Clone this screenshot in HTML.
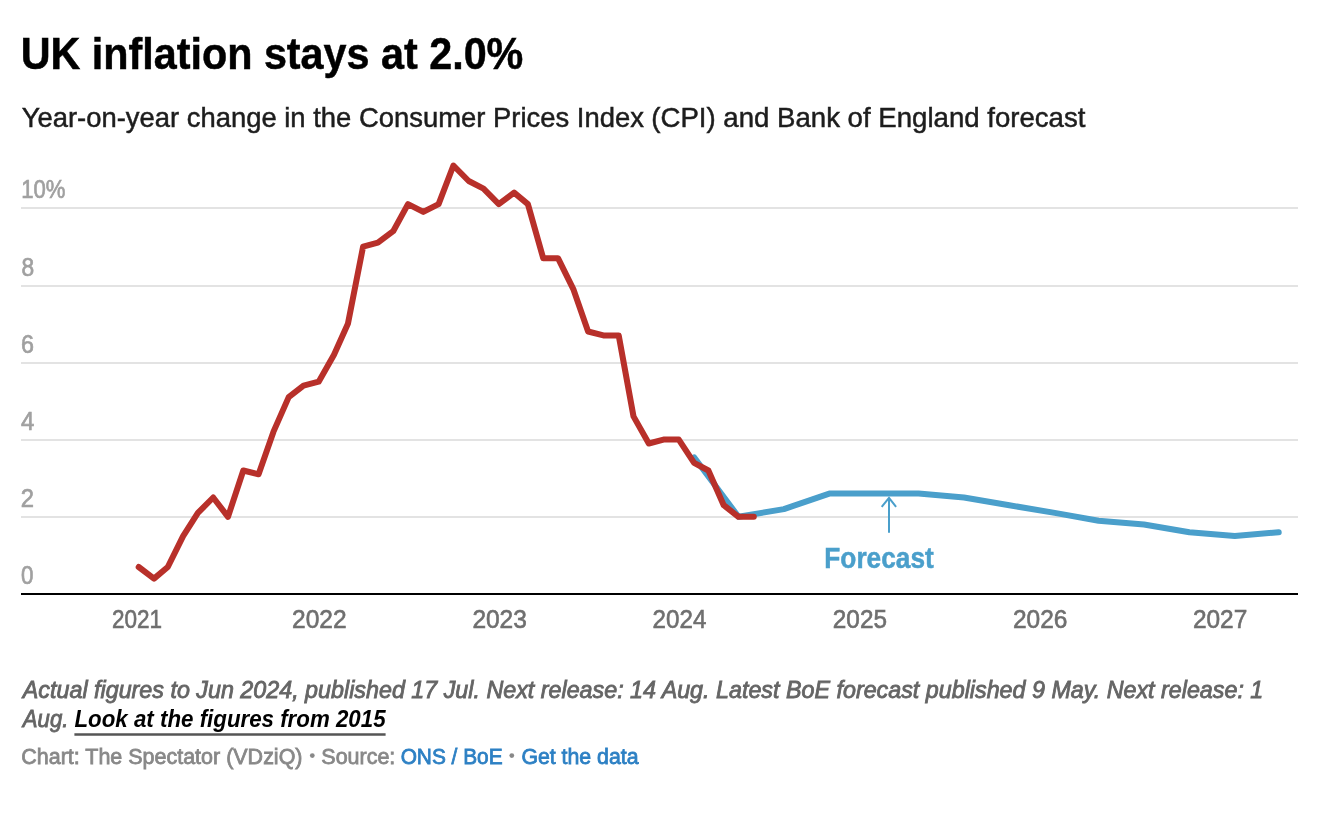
<!DOCTYPE html>
<html><head><meta charset="utf-8"><style>
html,body{margin:0;padding:0;background:#fff;}
body{width:1336px;height:814px;overflow:hidden;}
svg{display:block;will-change:transform;}
text{font-family:"Liberation Sans",sans-serif;}
.t{font-weight:bold;font-size:45px;fill:#000;stroke:#000;stroke-width:0.5px;}
.st{font-size:28.5px;fill:#1d1d1d;stroke:#1d1d1d;stroke-width:0.5px;}
.yl{font-size:26px;fill:#a0a0a0;stroke:#a0a0a0;stroke-width:0.7px;}
.xl{font-size:25.3px;fill:#6f6f6f;stroke:#6f6f6f;stroke-width:0.6px;}
.fc{font-weight:bold;font-size:29.5px;fill:#4a9fcb;stroke:#4a9fcb;stroke-width:0.5px;}
.n{font-size:24px;font-style:italic;fill:#656565;stroke:#656565;stroke-width:0.85px;}
.nb{font-size:24px;font-style:italic;font-weight:bold;fill:#000;}
.by{font-size:22px;fill:#888;stroke:#888;stroke-width:0.8px;}
.lk{fill:#2d80c4;stroke:#2d80c4;}
</style></head><body>
<svg width="1336" height="814" viewBox="0 0 1336 814">
<g id="gridg">
<line x1="21" x2="1298" y1="517.0" y2="517.0" stroke="#e3e3e3" stroke-width="2"/>
<line x1="21" x2="1298" y1="440.0" y2="440.0" stroke="#e3e3e3" stroke-width="2"/>
<line x1="21" x2="1298" y1="363.0" y2="363.0" stroke="#e3e3e3" stroke-width="2"/>
<line x1="21" x2="1298" y1="286.0" y2="286.0" stroke="#e3e3e3" stroke-width="2"/>
<line x1="21" x2="1298" y1="208.0" y2="208.0" stroke="#e3e3e3" stroke-width="2"/>

<line x1="21" x2="1298" y1="594" y2="594" stroke="#000" stroke-width="2"/>
</g>
<g id="lines">
<path d="M694.1,457.3 L738.5,516.8 L783.9,509.1 L829.3,493.6 L874.7,493.6 L918.6,493.6 L964.0,497.5 L1009.3,505.2 L1054.7,512.9 L1098.6,520.7 L1144.0,524.5 L1189.4,532.2 L1234.8,536.1 L1278.7,532.2" fill="none" stroke="#4a9fcb" stroke-width="6" stroke-linejoin="round" stroke-linecap="round"/>
<path d="M138.7,567.0 L154.0,578.6 L167.8,567.0 L183.1,536.1 L197.9,512.9 L213.2,497.5 L228.0,516.8 L243.3,470.5 L258.6,474.3 L273.4,431.9 L288.7,397.1 L303.5,385.6 L318.7,381.7 L334.0,354.7 L347.9,323.8 L363.1,246.6 L377.9,242.7 L393.2,231.2 L408.0,204.1 L423.3,211.9 L438.6,204.1 L453.4,165.5 L468.7,181.0 L483.5,188.7 L498.8,204.1 L514.1,192.6 L527.9,204.1 L543.2,258.2 L558.0,258.2 L573.3,289.1 L588.1,331.5 L603.4,335.4 L618.7,335.4 L633.5,416.4 L648.8,443.5 L663.5,439.6 L678.8,439.6 L694.1,462.8 L708.4,470.5 L723.7,505.2 L738.5,516.8 L753.8,516.8" fill="none" stroke="#b8302a" stroke-width="6" stroke-linejoin="round" stroke-linecap="round"/>
<path d="M889,532.7 L889,498 M881.7,506.9 L889,497.8 L896.1,506.9" fill="none" stroke="#4a9fcb" stroke-width="2"/>
<line x1="74.4" x2="385.6" y1="734.5" y2="734.5" stroke="#555" stroke-width="2.5"/>
<circle cx="312.3" cy="755.6" r="2.4" fill="#888"/>
<circle cx="511.8" cy="755.6" r="2.4" fill="#888"/>
</g>
<text id="title" x="20.69" y="69.10" class="t" textLength="502.66" lengthAdjust="spacingAndGlyphs">UK inflation stays at 2.0%</text>
<text id="sub1" x="21.66" y="126.60" class="st" textLength="622.19" lengthAdjust="spacingAndGlyphs">Year-on-year change in the Consumer Prices Index</text>
<text id="sub2" x="651.28" y="126.60" class="st" textLength="434.17" lengthAdjust="spacingAndGlyphs">(CPI) and Bank of England forecast</text>
<text id="y0" x="21.07" y="583.90" class="yl" textLength="12.45" lengthAdjust="spacingAndGlyphs">0</text>
<text id="y2" x="20.64" y="506.90" class="yl" textLength="13.24" lengthAdjust="spacingAndGlyphs">2</text>
<text id="y4" x="20.89" y="429.90" class="yl" textLength="13.28" lengthAdjust="spacingAndGlyphs">4</text>
<text id="y6" x="20.90" y="352.90" class="yl" textLength="12.98" lengthAdjust="spacingAndGlyphs">6</text>
<text id="y8" x="21.45" y="275.90" class="yl" textLength="12.69" lengthAdjust="spacingAndGlyphs">8</text>
<text id="y10" x="21.13" y="197.90" class="yl" textLength="44.21" lengthAdjust="spacingAndGlyphs">10%</text>
<text id="x2021" x="111.97" y="627.80" class="xl" textLength="50.12" lengthAdjust="spacingAndGlyphs">2021</text>
<text id="x2022" x="292.05" y="627.80" class="xl" textLength="54.57" lengthAdjust="spacingAndGlyphs">2022</text>
<text id="x2023" x="472.39" y="627.80" class="xl" textLength="54.50" lengthAdjust="spacingAndGlyphs">2023</text>
<text id="x2024" x="652.60" y="627.80" class="xl" textLength="53.76" lengthAdjust="spacingAndGlyphs">2024</text>
<text id="x2025" x="832.84" y="627.80" class="xl" textLength="54.14" lengthAdjust="spacingAndGlyphs">2025</text>
<text id="x2026" x="1012.92" y="627.80" class="xl" textLength="54.48" lengthAdjust="spacingAndGlyphs">2026</text>
<text id="x2027" x="1192.91" y="627.80" class="xl" textLength="54.37" lengthAdjust="spacingAndGlyphs">2027</text>
<text id="fc" x="824.33" y="567.60" class="fc" textLength="109.44" lengthAdjust="spacingAndGlyphs">Forecast</text>
<text id="n1" x="22.82" y="697.70" class="n" textLength="1240.49" lengthAdjust="spacingAndGlyphs">Actual figures to Jun 2024, published 17 Jul. Next release: 14 Aug. Latest BoE forecast published 9 May. Next release: 1</text>
<text id="n2" x="22.86" y="726.90" class="n" textLength="45.50" lengthAdjust="spacingAndGlyphs">Aug.</text>
<text id="n3" x="74.51" y="726.90" class="nb" textLength="311.05" lengthAdjust="spacingAndGlyphs">Look at the figures from 2015</text>
<text id="by1" x="21.27" y="764.00" class="by" textLength="281.22" lengthAdjust="spacingAndGlyphs">Chart: The Spectator (VDziQ)</text>
<text id="by2" x="321.32" y="764.00" class="by" textLength="74.03" lengthAdjust="spacingAndGlyphs">Source:</text>
<text id="by3" x="400.65" y="764.00" class="by lk" textLength="101.98" lengthAdjust="spacingAndGlyphs">ONS / BoE</text>
<text id="by4" x="521.39" y="764.00" class="by lk" textLength="117.17" lengthAdjust="spacingAndGlyphs">Get the data</text>

</svg>
</body></html>
